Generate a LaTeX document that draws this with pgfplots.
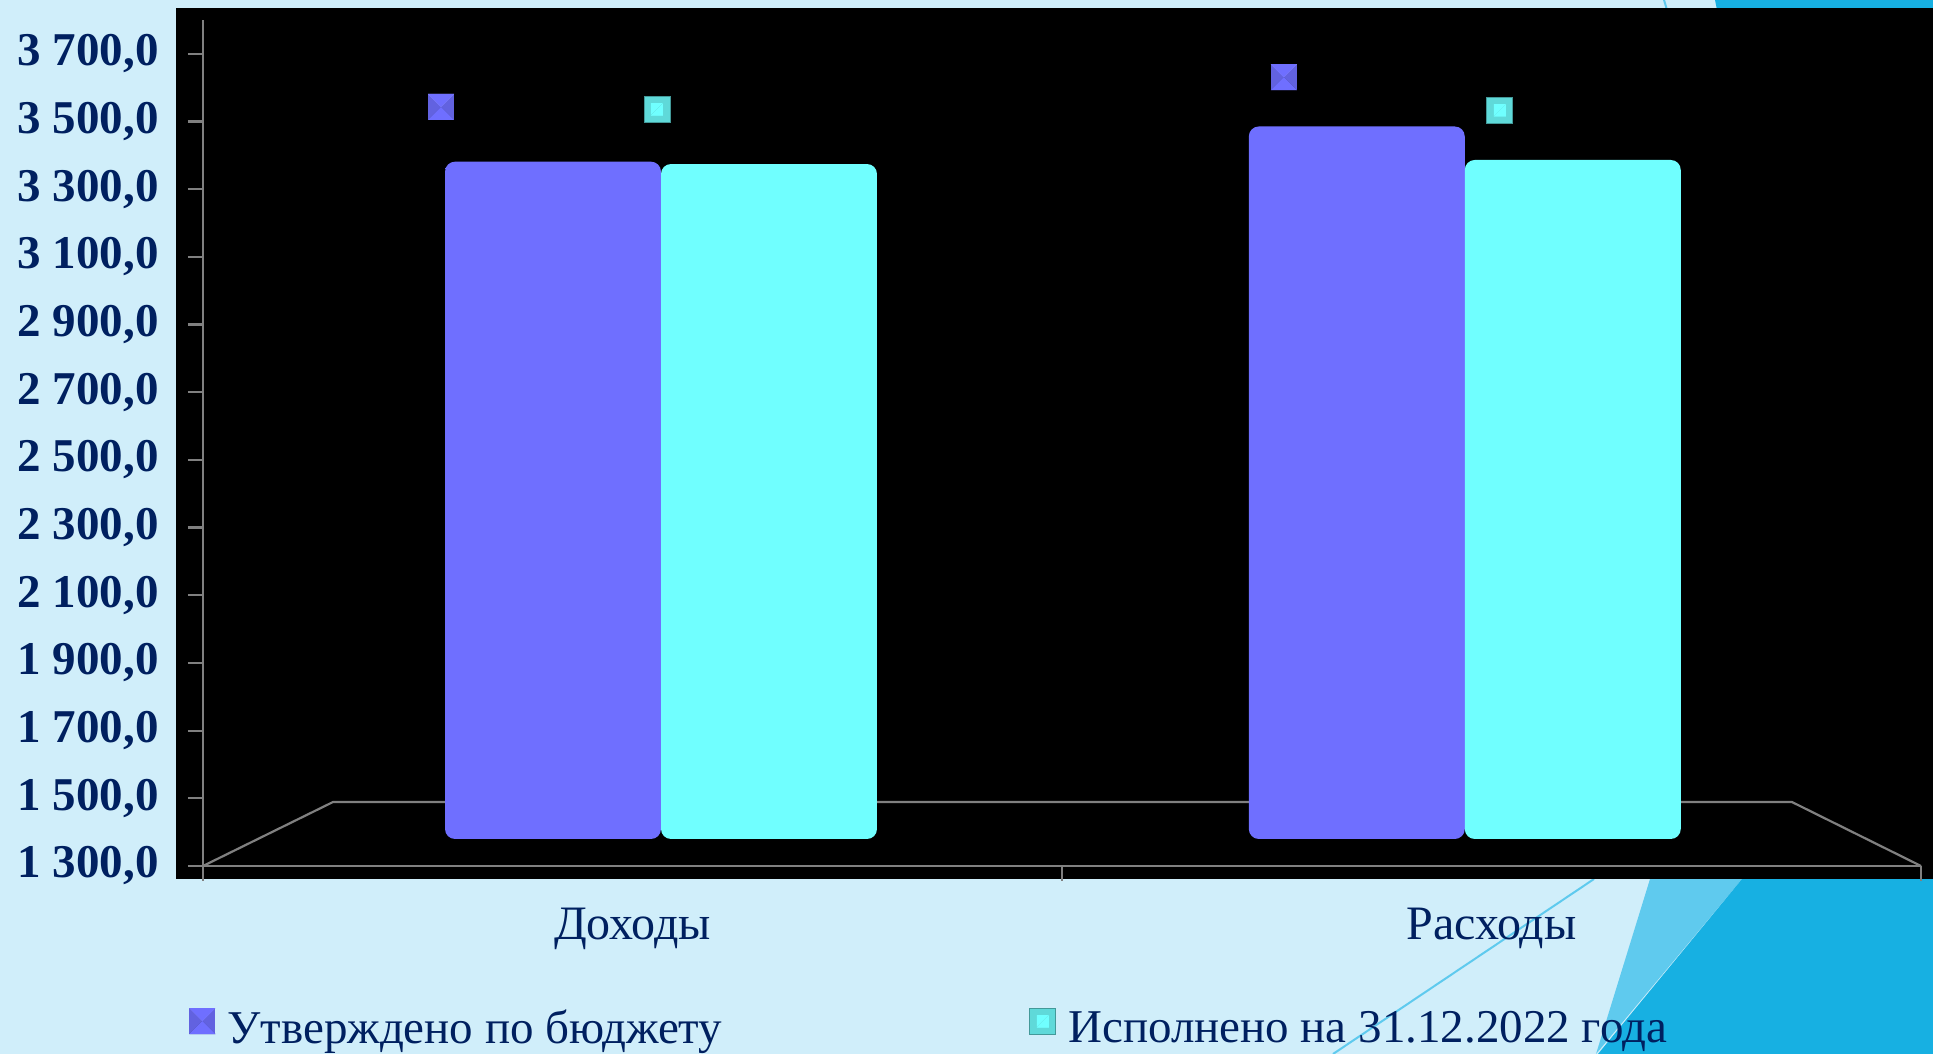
\documentclass[border=0pt]{standalone}
\usepackage{pgfplots}
\pgfplotsset{compat=1.18}
\usepackage{fontspec}
\setmainfont{Liberation Serif}
\definecolor{bg}{RGB}{208,238,250}
\definecolor{deco}{RGB}{23,176,226}
\definecolor{decolight}{RGB}{95,202,238}
\definecolor{navy}{RGB}{0,32,96}
\definecolor{barA}{RGB}{111,111,255}
\definecolor{barB}{RGB}{112,255,255}
\definecolor{axgray}{RGB}{128,128,128}
\newcommand\tfont{\fontsize{23.5}{28}\selectfont}
\pgfdeclarehorizontalshading{barAshade}{100bp}{color(0bp)=(barA!50!black); color(1.5bp)=(barA!70!black); color(4bp)=(barA); color(99bp)=(barA); color(100bp)=(barA!90!black)}
\pgfdeclarehorizontalshading{barBshade}{100bp}{color(0bp)=(barB!85!black); color(1bp)=(barB); color(96bp)=(barB); color(98bp)=(barB!75!black); color(100bp)=(barB!65!black)}
\tikzset{
  keyA/.style={rectangle, sharp corners, inner sep=0pt, minimum size=13pt, fill=barA!88!black,
    path picture={
      \fill[sharp corners, barA!70!white] (path picture bounding box.north west) -- (path picture bounding box.center) -- (path picture bounding box.north east) -- cycle;
      \fill[sharp corners, barA!55!black] (path picture bounding box.south west) -- (path picture bounding box.center) -- (path picture bounding box.south east) -- cycle;
    }},
  keyB/.style={rectangle, sharp corners, inner sep=0pt, minimum size=13pt, fill=barB!85!black, draw=barB!60!black, line width=0.4pt,
    path picture={
      \fill[sharp corners, barB!55!black] ([xshift=-3pt,yshift=-3pt]path picture bounding box.center) rectangle ([xshift=3pt,yshift=3pt]path picture bounding box.center);
      \fill[sharp corners, barB!75!black] ([xshift=-3pt,yshift=-3pt]path picture bounding box.center) -- ([xshift=3pt,yshift=3pt]path picture bounding box.center) -- ([xshift=3pt,yshift=-3pt]path picture bounding box.center) -- cycle;
    }},
}
\begin{document}
\begin{tikzpicture}
\useasboundingbox (0,0) rectangle (966.5pt,527pt);
\clip (0,0) rectangle (966.5pt,527pt);
\begin{scope}[x=0.5pt,y=-0.5pt,yshift=527pt]
  \fill[bg] (0,0) rectangle (1933,1054);
  \fill[deco] (1715,0) -- (1933,0) -- (1933,10) -- (1717,10) -- cycle;
  \draw[decolight, line width=1pt] (1664,0) -- (1667,10);
  \fill[decolight] (1650,879) -- (1742,879) -- (1596,1054) -- cycle;
  \fill[deco] (1742,879) -- (1933,879) -- (1933,1054) -- (1598,1054) -- cycle;
  \draw[decolight, line width=1pt] (1594,879) -- (1333,1054);
  \fill[black] (176,8) rectangle (1933,879);
\end{scope}

% front axis: ticks, labels, floor
\begin{axis}[
  at={(101.5pt,94pt)}, anchor=south west, scale only axis,
  width=859pt, height=423pt,
  xmin=0, xmax=2, ymin=1300, ymax=3800,
  axis lines=left,
  axis line style={-, draw=axgray, line width=1.1pt},
  tick style={draw=axgray, line width=1.1pt},
  tick align=outside, major tick length=7.5pt,
  xtick={0,1,2}, xticklabels={},
  extra x ticks={0.5,1.5},
  extra x tick labels={Доходы,Расходы},
  extra x tick style={major tick length=0pt, tick style={draw=none},
    xticklabel style={font=\fontsize{24}{28}\selectfont, text=navy, anchor=north, inner sep=0pt, yshift=-21pt}},
  ytick={1300,1500,...,3700},
  yticklabel={\pgfmathprintnumber[fixed,fixed zerofill,precision=1,use comma,1000 sep={\space},assume math mode=true]{\tick}},
  yticklabel style={font=\bfseries\tfont, text=navy, inner sep=0pt, anchor=east, xshift=-14.5pt},
  clip=false,
]
\draw[axgray, line width=1.1pt] (axis cs:0,1300) -- (axis cs:0.1513,1489) -- (axis cs:1.8498,1489) -- (axis cs:2,1300);
\end{axis}

% bars (set back in depth)
\begin{axis}[
  at={(101.5pt,107.5pt)}, anchor=south west, scale only axis,
  width=859pt, height=409.5pt,
  xmin=-0.5698, xmax=1.5676, ymin=1300, ymax=3720.7,
  hide axis,
  ybar=0pt, bar width=0.2687,
  visualization depends on={x \as \xval},
  nodes near coords={},
  every node near coord/.append style={anchor=center,
     xshift={-36.5-19.5*(\xval<0.5)}, yshift={24.7+2.7*(\xval<0.5)}},
  legend columns=2,
  legend style={draw=none, fill=none, at={(-0.00815,-0.2295)}, anchor=west,
    font=\tfont, text=navy, inner sep=0pt, nodes={inner sep=0pt},
    /tikz/every odd column/.append style={column sep=6pt}},
  legend cell align=left,
]
\addplot[shading=barAshade, draw=none, rounded corners=5pt,
  every node near coord/.append style={keyA},
  legend image code/.code={\node[keyA] at (6.5pt,3.5pt) {};}]
  coordinates {(0,3302) (1,3406)};
\addlegendentry{\makebox[401pt][l]{Утверждено по бюджету}}
\addplot[shading=barBshade, draw=none, rounded corners=5pt,
  every node near coord/.append style={keyB},
  legend image code/.code={\node[keyB] at (6.5pt,3.5pt) {};}]
  coordinates {(0,3295) (1,3307)};
\addlegendentry{Исполнено на 31.12.2022 года}
\end{axis}
\end{tikzpicture}
\end{document}
